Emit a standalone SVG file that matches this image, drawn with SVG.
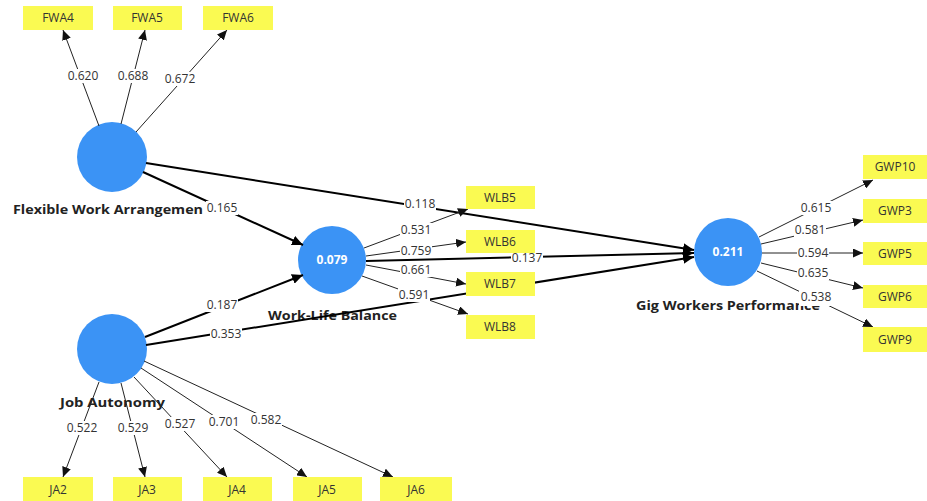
<svg xmlns="http://www.w3.org/2000/svg" width="927" height="501" viewBox="0 0 927 501">
<defs>
<marker id="ah" markerUnits="userSpaceOnUse" markerWidth="12" markerHeight="10" refX="11" refY="5" orient="auto"><path d="M0,0 L11,5 L0,10 Z" fill="#000"/></marker>
<marker id="as" markerUnits="userSpaceOnUse" markerWidth="11" markerHeight="9" refX="10" refY="4.5" orient="auto"><path d="M0,0 L10,4.5 L0,9 Z" fill="#111"/></marker>
<style>
.lv{fill:#3b93f5;}
.ind{fill:#fafa52;}
.val{font-family:"Open Sans","Liberation Sans",sans-serif;font-size:12px;font-weight:bold;fill:#fff;text-anchor:middle;}
.nm{font-family:"Open Sans","Liberation Sans",sans-serif;font-size:12.5px;font-weight:bold;fill:#222;}
.it{font-family:"Open Sans","Liberation Sans",sans-serif;font-size:12px;fill:#333;text-anchor:middle;}
.st{stroke:#000;stroke-width:2;fill:none;marker-end:url(#ah);}
.ol{stroke:#222;stroke-width:1;fill:none;marker-end:url(#as);}
.lb{fill:#fff;}
.lt{font-family:"Open Sans","Liberation Sans",sans-serif;font-size:12px;fill:#333;text-anchor:middle;}
</style>
</defs>
<rect width="927" height="501" fill="#fff"/>

<g id="FWA"><circle class="lv" cx="112" cy="157" r="35"/><text class="nm" x="13" y="214" textLength="190" lengthAdjust="spacingAndGlyphs">Flexible Work Arrangemen</text></g>
<g id="WLB"><circle class="lv" cx="332" cy="260" r="34"/><text class="val" x="332" y="264">0.079</text><text class="nm" x="268" y="320" textLength="129" lengthAdjust="spacingAndGlyphs">Work-Life Balance</text></g>
<g id="GWP"><circle class="lv" cx="728" cy="252" r="34"/><text class="val" x="728" y="256">0.211</text><text class="nm" x="636" y="310" textLength="184" lengthAdjust="spacingAndGlyphs">Gig Workers Performance</text></g>
<g id="JA"><circle class="lv" cx="112" cy="349" r="35"/><text class="nm" x="60" y="407" textLength="105" lengthAdjust="spacingAndGlyphs">Job Autonomy</text></g>

<g id="connectors">
<line class="st" x1="146" y1="163" x2="694" y2="250"/>
<line class="st" x1="143" y1="172" x2="303" y2="245"/>
<line class="st" x1="145" y1="337" x2="303" y2="275"/>
<line class="st" x1="146" y1="345" x2="694" y2="257"/>
<line class="st" x1="366" y1="261" x2="694" y2="253"/>

<line class="ol" x1="99" y1="126" x2="63" y2="30"/>
<line class="ol" x1="121" y1="124" x2="145" y2="30"/>
<line class="ol" x1="136" y1="132" x2="227" y2="30"/>

<line class="ol" x1="364" y1="248" x2="468" y2="209"/>
<line class="ol" x1="366" y1="256" x2="466" y2="242"/>
<line class="ol" x1="366" y1="265" x2="466" y2="284"/>
<line class="ol" x1="362" y1="276" x2="468" y2="314"/>

<line class="ol" x1="759" y1="237" x2="873" y2="180"/>
<line class="ol" x1="761" y1="244" x2="863" y2="220"/>
<line class="ol" x1="762" y1="253" x2="863" y2="253"/>
<line class="ol" x1="761" y1="263" x2="863" y2="288"/>
<line class="ol" x1="757" y1="271" x2="873" y2="327"/>

<line class="ol" x1="99" y1="382" x2="63" y2="477"/>
<line class="ol" x1="121" y1="383" x2="145" y2="477"/>
<line class="ol" x1="134" y1="377" x2="227" y2="477"/>
<line class="ol" x1="141" y1="368" x2="307" y2="477"/>
<line class="ol" x1="144" y1="361" x2="393" y2="477"/>

<g>
<rect class="lb" x="404" y="197" width="32" height="14"/><text class="lt" x="420" y="208">0.118</text>
<rect class="lb" x="206" y="201" width="32" height="14"/><text class="lt" x="222" y="212">0.165</text>
<rect class="lb" x="206" y="298" width="32" height="14"/><text class="lt" x="222" y="309">0.187</text>
<rect class="lb" x="210" y="327" width="32" height="14"/><text class="lt" x="226" y="338">0.353</text>
<rect class="lb" x="511" y="251" width="32" height="14"/><text class="lt" x="527" y="262">0.137</text>

<rect class="lb" x="67" y="69" width="32" height="14"/><text class="lt" x="83" y="80">0.620</text>
<rect class="lb" x="117" y="69" width="32" height="14"/><text class="lt" x="133" y="80">0.688</text>
<rect class="lb" x="164" y="72" width="32" height="14"/><text class="lt" x="180" y="83">0.672</text>

<rect class="lb" x="400" y="223" width="32" height="14"/><text class="lt" x="416" y="234">0.531</text>
<rect class="lb" x="400" y="244" width="32" height="14"/><text class="lt" x="416" y="255">0.759</text>
<rect class="lb" x="400" y="263" width="32" height="14"/><text class="lt" x="416" y="274">0.661</text>
<rect class="lb" x="398" y="288" width="32" height="14"/><text class="lt" x="414" y="299">0.591</text>

<rect class="lb" x="800" y="201" width="32" height="14"/><text class="lt" x="816" y="212">0.615</text>
<rect class="lb" x="794" y="223" width="32" height="14"/><text class="lt" x="810" y="234">0.581</text>
<rect class="lb" x="797" y="246" width="32" height="14"/><text class="lt" x="813" y="257">0.594</text>
<rect class="lb" x="797" y="266" width="32" height="14"/><text class="lt" x="813" y="277">0.635</text>
<rect class="lb" x="799" y="289" width="34" height="17"/><text class="lt" x="816" y="301">0.538</text>

<rect class="lb" x="66" y="421" width="32" height="14"/><text class="lt" x="82" y="432">0.522</text>
<rect class="lb" x="117" y="421" width="32" height="14"/><text class="lt" x="133" y="432">0.529</text>
<rect class="lb" x="164" y="417" width="32" height="14"/><text class="lt" x="180" y="428">0.527</text>
<rect class="lb" x="208" y="415" width="32" height="14"/><text class="lt" x="224" y="426">0.701</text>
<rect class="lb" x="250" y="413" width="32" height="14"/><text class="lt" x="266" y="424">0.582</text>
</g>
</g>

<g id="FWA4"><rect class="ind" x="23" y="6" width="70" height="24"/><text class="it" x="58" y="22">FWA4</text></g>
<g id="FWA5"><rect class="ind" x="113" y="6" width="69" height="24"/><text class="it" x="147" y="22">FWA5</text></g>
<g id="FWA6"><rect class="ind" x="203" y="6" width="70" height="24"/><text class="it" x="238" y="22">FWA6</text></g>

<g id="WLB5"><rect class="ind" x="466" y="186" width="69" height="23"/><text class="it" x="500" y="202">WLB5</text></g>
<g id="WLB6"><rect class="ind" x="466" y="230" width="69" height="23"/><text class="it" x="500" y="246">WLB6</text></g>
<g id="WLB7"><rect class="ind" x="466" y="272" width="69" height="24"/><text class="it" x="500" y="288">WLB7</text></g>
<g id="WLB8"><rect class="ind" x="466" y="315" width="69" height="24"/><text class="it" x="500" y="331">WLB8</text></g>

<g id="GWP10"><rect class="ind" x="863" y="155" width="64" height="24"/><text class="it" x="895" y="171">GWP10</text></g>
<g id="GWP3"><rect class="ind" x="863" y="199" width="64" height="24"/><text class="it" x="895" y="215">GWP3</text></g>
<g id="GWP5"><rect class="ind" x="863" y="242" width="64" height="23"/><text class="it" x="895" y="258">GWP5</text></g>
<g id="GWP6"><rect class="ind" x="863" y="285" width="64" height="23"/><text class="it" x="895" y="301">GWP6</text></g>
<g id="GWP9"><rect class="ind" x="863" y="327" width="64" height="25"/><text class="it" x="895" y="344">GWP9</text></g>

<g id="JA2"><rect class="ind" x="23" y="477" width="70" height="24"/><text class="it" x="58" y="494">JA2</text></g>
<g id="JA3"><rect class="ind" x="113" y="477" width="69" height="24"/><text class="it" x="147" y="494">JA3</text></g>
<g id="JA4"><rect class="ind" x="203" y="477" width="69" height="24"/><text class="it" x="237" y="494">JA4</text></g>
<g id="JA5"><rect class="ind" x="293" y="477" width="69" height="24"/><text class="it" x="327" y="494">JA5</text></g>
<g id="JA6"><rect class="ind" x="380" y="477" width="72" height="24"/><text class="it" x="416" y="494">JA6</text></g>
</svg>
